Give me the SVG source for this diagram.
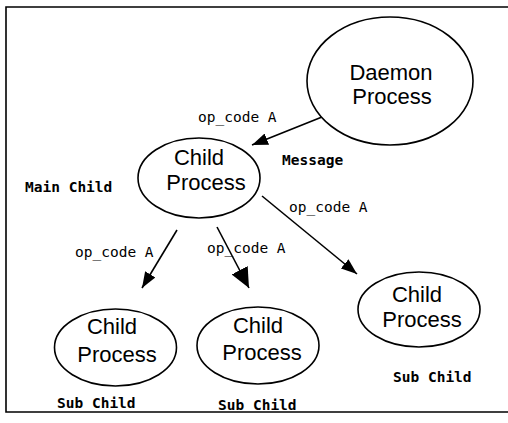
<svg xmlns="http://www.w3.org/2000/svg" width="508" height="423" viewBox="0 0 508 423">
<style>
.node ellipse{fill:#fff;stroke:#000;stroke-width:1.6}
.node text{font-family:"Liberation Sans",Arial,sans-serif;font-size:22px;fill:#000;text-anchor:middle}
.lbl{font-family:"DejaVu Sans Mono","Liberation Mono",monospace;font-size:14.5px;fill:#000}
.blbl{font-family:"DejaVu Sans Mono","Liberation Mono",monospace;font-size:14.5px;font-weight:bold;fill:#000}
.edge{stroke:#000;stroke-width:1.6;fill:none}
</style>
<defs>
<marker id="ah" viewBox="0 0 16 12" refX="16" refY="6" markerWidth="16" markerHeight="12" markerUnits="userSpaceOnUse" orient="auto"><path d="M0,0 L16,6 L0,12 z" fill="#000"/></marker>
<marker id="ahL" viewBox="0 0 20 18" refX="20" refY="9" markerWidth="20" markerHeight="18" markerUnits="userSpaceOnUse" orient="auto"><path d="M0,0 L20,9 L0,18 z" fill="#000"/></marker>
</defs>
<rect width="508" height="423" fill="#fff"/>
<path d="M508 7 H6 V412 H508" fill="none" stroke="#000" stroke-width="1.6"/>
<g id="connectors">
<line class="edge" x1="322" y1="117" x2="252" y2="145" marker-end="url(#ah)"/>
<line class="edge" x1="262" y1="196" x2="357" y2="274" marker-end="url(#ah)"/>
<line class="edge" x1="177" y1="230" x2="142" y2="288" marker-end="url(#ah)"/>
<line class="edge" x1="217" y1="227" x2="249" y2="288" marker-end="url(#ahL)"/>
</g>
<g id="daemon" class="node">
<ellipse cx="390" cy="81" rx="83" ry="64"/>
<text x="391" y="80">Daemon</text>
<text x="392" y="104">Process</text>
</g>
<g id="main-child" class="node">
<ellipse cx="199" cy="178" rx="61" ry="40"/>
<text x="199" y="165">Child</text>
<text x="206" y="190">Process</text>
</g>
<g id="sub-child-1" class="node">
<ellipse cx="115.5" cy="347.5" rx="61" ry="38.5"/>
<text x="112" y="334">Child</text>
<text x="117" y="362">Process</text>
</g>
<g id="sub-child-2" class="node">
<ellipse cx="258" cy="345.5" rx="61" ry="38.5"/>
<text x="258" y="333">Child</text>
<text x="262" y="360">Process</text>
</g>
<g id="sub-child-3" class="node">
<ellipse cx="419" cy="309.5" rx="61" ry="37.5"/>
<text x="417" y="302">Child</text>
<text x="422" y="327">Process</text>
</g>
<g id="labels">
<text class="lbl" x="198" y="122">op_code A</text>
<text class="blbl" x="282" y="165">Message</text>
<text class="blbl" x="25" y="192">Main Child</text>
<text class="lbl" x="289" y="212">op_code A</text>
<text class="lbl" x="75" y="257">op_code A</text>
<text class="lbl" x="207" y="253">op_code A</text>
<text class="blbl" x="57" y="408">Sub Child</text>
<text class="blbl" x="218" y="410">Sub Child</text>
<text class="blbl" x="393" y="382">Sub Child</text>
</g>
</svg>
